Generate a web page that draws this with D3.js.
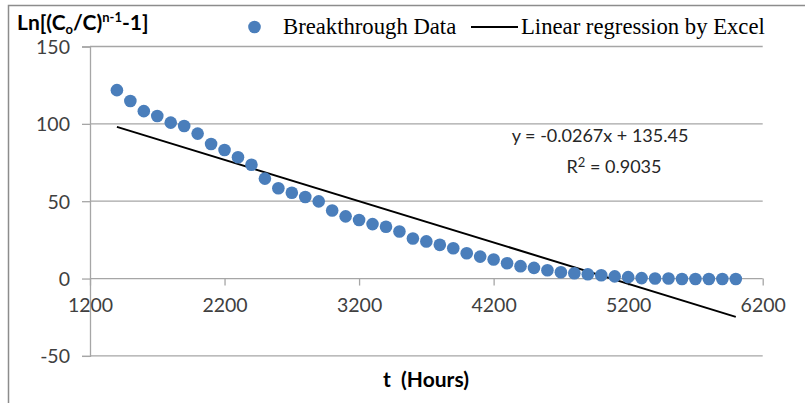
<!DOCTYPE html>
<html><head><meta charset="utf-8">
<script src="https://cdn.jsdelivr.net/npm/d3@7"></script>
<style>html,body{margin:0;padding:0;background:#fff;}svg{display:block;}</style>
</head><body>
<svg id="c" width="805" height="403"></svg>
<script>
const hours = [1400,1500,1600,1700,1800,1900,2000,2100,2200,2300,2400,2500,2600,2700,2800,2900,3000,3100,3200,3300,3400,3500,3600,3700,3800,3900,4000,4100,4200,4300,4400,4500,4600,4700,4800,4900,5000,5100,5200,5300,5400,5500,5600,5700,5800,5900,6000];
const lnValues = [121.8,114.8,108.2,105.1,100.8,98.6,93.7,87.0,83.1,78.4,73.6,64.6,58.4,55.5,52.7,49.9,44.0,40.2,37.8,35.2,33.5,30.4,25.9,24.0,21.8,19.6,16.4,14.2,12.3,9.9,8.0,6.9,5.4,4.1,3.4,2.8,2.1,1.4,0.9,0.3,0.0,0.0,-0.3,-0.3,-0.3,-0.3,-0.3];
const xTicks = [1200,2200,3200,4200,5200,6200];
const yTicks = [-50,0,50,100,150];
const slope = -0.0267, intercept = 135.45;
const fitRange = [1400, 6000];
const legendLabels = ["Breakthrough Data", "Linear regression by Excel"];
const equationText = "y = -0.0267x + 135.45";
const r2Text = "R² = 0.9035";

const svg = d3.select("#c");
const x = d3.scaleLinear().domain([1200,6200]).range([90,762.7]);
const y = d3.scaleLinear().domain([-50,150]).range([355.9,46.5]);
const grid = "#a6a6a6", txt = "#404040";
const sans = "Lato, 'Open Sans', sans-serif";
const hyphen = d => String(d).replace("\u2212","-");

// chart border
svg.append("path").attr("d","M8.5,403 V5.5 H805").attr("fill","none").attr("stroke","#8c8c8c").attr("stroke-width",1.5);

// horizontal gridlines
svg.append("g").selectAll("line").data(yTicks).join("line")
  .attr("x1",x(1200)).attr("x2",x(6200)).attr("y1",d=>y(d)).attr("y2",d=>y(d))
  .attr("stroke",grid).attr("stroke-width",1.3);

// y axis
const yAxis = d3.axisLeft(y).tickValues(yTicks).tickSize(8).tickPadding(12).tickFormat(d=>hyphen(d));
const gy = svg.append("g").attr("transform",`translate(${x(1200)},0)`).call(yAxis);
gy.select(".domain").attr("stroke",grid).attr("stroke-width",1.3);
gy.selectAll(".tick line").attr("stroke",grid).attr("stroke-width",1.3);
gy.selectAll(".tick text").attr("fill",txt).style("font-family",sans).style("font-size","19.5px").attr("dy","0.35em");

// x axis at y=0
const xAxis = d3.axisBottom(x).tickValues(xTicks).tickSize(7).tickPadding(13).tickFormat(d3.format("d"));
const gx = svg.append("g").attr("transform",`translate(0,${y(0)})`).call(xAxis);
gx.select(".domain").remove();
gx.selectAll(".tick line").attr("stroke",grid).attr("stroke-width",1.3);
gx.selectAll(".tick text").attr("fill",txt).style("font-family",sans).style("font-size","19.5px");

// regression line
svg.append("line")
  .attr("x1",x(fitRange[0])).attr("y1",y(slope*fitRange[0]+intercept))
  .attr("x2",x(fitRange[1])).attr("y2",y(slope*fitRange[1]+intercept))
  .attr("stroke","#000").attr("stroke-width",2);

// points
svg.append("g").selectAll("circle").data(hours.map((h,i)=>[h,lnValues[i]])).join("circle")
  .attr("cx",d=>x(d[0])).attr("cy",d=>y(d[1])).attr("r",6.3).attr("fill","#4a7ebb");

// equation
svg.append("text").attr("x",600).attr("y",142).attr("text-anchor","middle").attr("fill","#262626")
  .style("font-family",sans).style("font-size","18px").text(equationText);
const r2 = svg.append("text").attr("x",614).attr("y",173).attr("text-anchor","middle").attr("fill","#262626")
  .style("font-family",sans).style("font-size","18px");
r2.append("tspan").text("R");
r2.append("tspan").attr("dy",-6).style("font-size","13px").text("2");
r2.append("tspan").attr("dy",6).text(" = 0.9035");

// y title
const yt = svg.append("text").attr("x",17).attr("y",30).attr("fill","#000")
  .style("font-family",sans).style("font-size","21px").style("font-weight","bold");
yt.append("tspan").text("Ln[(C");
yt.append("tspan").attr("dy",4).style("font-size","13px").text("o");
yt.append("tspan").attr("dy",-4).text("/C)");
yt.append("tspan").attr("dy",-8).style("font-size","13px").text("n-1");
yt.append("tspan").attr("dy",8).text("-1]");

// x title
svg.append("text").attr("x",426).attr("y",387).attr("text-anchor","middle").attr("fill","#000")
  .style("font-family",sans).style("font-size","21px").style("font-weight","bold").text("t  (Hours)")
  .style("white-space","pre");

// legend
const serif = "'Liberation Serif', 'Times New Roman', serif";
svg.append("circle").attr("cx",254.5).attr("cy",27).attr("r",6.3).attr("fill","#4a7ebb");
svg.append("text").attr("x",283).attr("y",34).attr("fill","#000").style("font-family",serif).style("font-size","22.7px").text(legendLabels[0]);
svg.append("line").attr("x1",471).attr("x2",518).attr("y1",27).attr("y2",27).attr("stroke","#000").attr("stroke-width",2);
svg.append("text").attr("x",521).attr("y",34).attr("fill","#000").style("font-family",serif).style("font-size","22.7px").text(legendLabels[1]);
</script>
</body></html>
